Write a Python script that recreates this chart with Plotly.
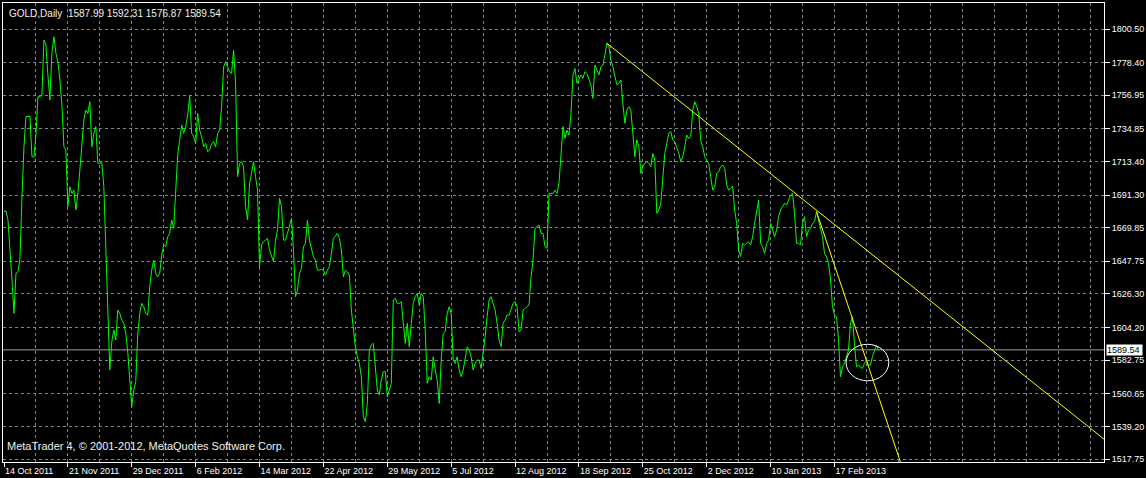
import plotly.graph_objects as go

# ---- data (daily closes, one per bar, bar 0 = 14 Oct 2011) ----
close = [
    1680.4, 1681.0, 1674.9, 1657.4, 1635.4, 1613.5, 1639.8, 1640.9, 1649.7, 1690.0,
    1723.1, 1742.8, 1743.3, 1743.3, 1716.5, 1716.5, 1730.8, 1756.0, 1756.0, 1757.1,
    1793.3, 1790.0, 1770.0, 1753.8, 1785.0, 1795.5, 1784.5, 1779.0, 1766.9, 1751.0,
    1723.1, 1720.9, 1683.7, 1696.8, 1692.4, 1694.6, 1681.5, 1692.4, 1707.8, 1723.1,
    1740.7, 1747.2, 1745.0, 1752.7, 1723.1, 1731.9, 1736.3, 1712.2, 1712.2, 1712.6,
    1696.8, 1657.4, 1615.7, 1576.3, 1595.0, 1602.6, 1596.0, 1615.7, 1613.5, 1609.1,
    1606.9, 1600.4, 1588.0, 1570.0, 1552.1, 1563.1, 1568.6, 1600.0, 1613.5, 1620.1,
    1617.9, 1613.5, 1612.4, 1631.1, 1642.0, 1648.6, 1639.8, 1637.6, 1639.8, 1651.9,
    1658.5, 1657.4, 1663.9, 1666.1, 1674.9, 1669.4, 1699.0, 1717.6, 1727.5, 1737.4,
    1731.9, 1736.3, 1743.9, 1756.4, 1731.9, 1729.7, 1725.3, 1745.0, 1734.1, 1729.7,
    1723.1, 1725.3, 1719.8, 1720.9, 1725.3, 1726.4, 1723.1, 1731.9, 1734.1, 1749.4,
    1775.7, 1779.0, 1775.7, 1772.4, 1771.3, 1786.7, 1764.8, 1703.4, 1712.2, 1713.3,
    1710.0, 1683.7, 1674.9, 1699.0, 1705.6, 1713.3, 1703.4, 1694.6, 1644.2, 1658.5,
    1660.6, 1661.7, 1662.8, 1655.2, 1650.8, 1647.5, 1661.7, 1668.3, 1689.2, 1683.7,
    1661.7, 1661.7, 1666.1, 1671.6, 1676.0, 1655.2, 1624.5, 1628.9, 1639.8, 1643.1,
    1657.4, 1659.6, 1674.9, 1661.7, 1655.2, 1650.8, 1648.6, 1642.0, 1642.0, 1642.5,
    1642.0, 1638.7, 1642.0, 1644.2, 1653.0, 1662.8, 1664.4, 1666.1, 1662.8, 1655.2,
    1637.6, 1642.0, 1640.9, 1638.7, 1615.7, 1602.6, 1591.6, 1585.0, 1580.6, 1571.9,
    1545.6, 1542.3, 1554.3, 1589.4, 1592.7, 1593.8, 1580.6, 1563.1, 1559.8, 1569.7,
    1575.2, 1575.2, 1558.7, 1563.1, 1567.5, 1622.3, 1623.4, 1620.1, 1620.1, 1621.2,
    1609.1, 1593.8, 1607.0, 1591.6, 1607.0, 1620.1, 1624.5, 1626.7, 1619.0, 1626.7,
    1624.5, 1602.6, 1567.5, 1571.9, 1569.7, 1585.0, 1576.3, 1569.7, 1554.3, 1582.8,
    1600.4, 1601.5, 1613.5, 1617.9, 1613.5, 1582.8, 1580.6, 1585.0, 1576.3, 1571.9,
    1576.3, 1585.0, 1591.6, 1589.4, 1585.0, 1576.3, 1580.6, 1582.8, 1582.8, 1577.3,
    1587.2, 1598.2, 1611.3, 1622.3, 1624.5, 1620.1, 1615.7, 1607.0, 1596.0, 1591.6,
    1607.0, 1609.1, 1612.4, 1612.4, 1615.7, 1620.1, 1621.2, 1617.9, 1601.5, 1602.6,
    1615.7, 1616.8, 1617.9, 1619.0, 1637.6, 1648.6, 1669.4, 1670.5, 1671.6, 1666.1,
    1666.1, 1657.4, 1656.3, 1692.4, 1692.4, 1692.4, 1694.6, 1692.4, 1699.0, 1720.0,
    1736.3, 1728.6, 1734.1, 1730.8, 1745.0, 1770.3, 1774.6, 1764.8, 1768.1, 1770.3,
    1768.1, 1772.4, 1771.3, 1766.9, 1763.7, 1754.9, 1776.8, 1773.5, 1770.3, 1775.7,
    1776.8, 1783.4, 1791.1, 1788.9, 1780.1, 1775.7, 1769.2, 1763.7, 1764.8, 1767.0,
    1751.6, 1738.5, 1747.2, 1749.4, 1747.2, 1729.7, 1716.5, 1727.5, 1723.1, 1705.6,
    1710.0, 1712.2, 1713.3, 1712.2, 1710.0, 1718.7, 1714.4, 1679.3, 1681.5, 1685.9,
    1705.6, 1718.7, 1725.3, 1731.9, 1733.0, 1727.5, 1726.4, 1723.1, 1718.7, 1713.3,
    1716.5, 1723.1, 1730.8, 1728.6, 1729.7, 1747.2, 1752.7, 1749.4, 1745.0, 1727.0,
    1723.1, 1716.5, 1714.4, 1712.0, 1703.4, 1694.6, 1696.8, 1705.6, 1706.7, 1710.0,
    1711.1, 1708.9, 1697.9, 1694.6, 1695.7, 1697.2, 1681.5, 1672.7, 1655.2, 1650.8,
    1659.6, 1658.5, 1659.6, 1660.6, 1658.5, 1663.9, 1672.7, 1681.5, 1688.0, 1659.6,
    1657.4, 1653.0, 1659.6, 1661.7, 1672.7, 1668.3, 1663.9, 1668.3, 1677.1, 1681.5,
    1683.7, 1685.9, 1684.8, 1688.0, 1691.3, 1692.4, 1679.3, 1659.6, 1659.6, 1658.5,
    1672.7, 1677.1, 1663.9, 1668.3, 1669.4, 1672.7, 1673.8, 1680.4, 1674.9, 1670.5,
    1663.9, 1653.0, 1650.8, 1646.4, 1636.0, 1618.0, 1612.4, 1611.3, 1597.0, 1571.9,
    1578.4, 1580.6, 1585.0, 1589.4, 1606.9, 1611.3, 1593.8, 1578.4, 1579.5, 1578.4,
    1577.3, 1580.6, 1582.8, 1579.5, 1579.5, 1585.0, 1589.4, 1592.5, 1589.54,
]
bars = list(range(len(close)))

date_labels = ["14 Oct 2011", "21 Nov 2011", "29 Dec 2011", "6 Feb 2012", "14 Mar 2012",
               "22 Apr 2012", "29 May 2012", "5 Jul 2012", "12 Aug 2012", "18 Sep 2012",
               "25 Oct 2012", "2 Dec 2012", "10 Jan 2013", "17 Feb 2013"]
label_step = 32   # bars between date labels
grid_step = 16    # bars between vertical grid lines
label_bars = [i * label_step for i in range(len(date_labels))]

price_ticks = [1800.50, 1778.40, 1756.95, 1734.85, 1713.40, 1691.30, 1669.85,
               1647.75, 1626.30, 1604.20, 1582.75, 1560.65, 1539.20, 1517.75]

ohlc = [1587.99, 1592.31, 1576.87, 1589.54]
last_price = ohlc[-1]
symbol = "GOLD,Daily"

# trendlines: two anchor points (bar, price), drawn as rays
trend1 = [(302, 1791.1), (395, 1693.9)]
trend2 = [(407, 1680.4), (426, 1606.0)]
# ellipse bounding box (bars, prices)
ellipse_x = [421.8, 443.2]
ellipse_y = [1569.2, 1593.2]

x_range = [-0.5, 551]
y_range = [1515.8, 1817.6]

GRID = "#778899"
FONT = "Liberation Sans, Arial, sans-serif"


def ray(anchors, x_end):
    (x0, y0), (x1, y1) = anchors
    slope = (y1 - y0) / (x1 - x0)
    return [x0, x_end], [y0, y0 + slope * (x_end - x0)]


fig = go.Figure()

fig.add_trace(go.Scatter(x=bars, y=close, mode="lines",
                         line=dict(color="#00FF00", width=1), hoverinfo="skip"))

for anchors in (trend1, trend2):
    tx, ty = ray(anchors, x_range[1] + 20)
    fig.add_trace(go.Scatter(x=tx, y=ty, mode="lines",
                             line=dict(color="#FFFF00", width=1), hoverinfo="skip"))

fig.add_shape(type="line", xref="paper", x0=0, x1=1, yref="y", y0=last_price, y1=last_price,
              line=dict(color="#A0A0A0", width=1), layer="below")
fig.add_shape(type="circle", xref="x", yref="y", x0=ellipse_x[0], x1=ellipse_x[1],
              y0=ellipse_y[0], y1=ellipse_y[1], line=dict(color="#FFFFFF", width=1))

fig.add_annotation(xref="paper", yref="paper", x=0, y=1, xanchor="left", yanchor="top",
                   xshift=4, yshift=-3, showarrow=False,
                   text=symbol + "  " + " ".join(f"{v:.2f}" for v in ohlc),
                   font=dict(family=FONT, size=10, color="#F0F0F0"))
fig.add_annotation(xref="paper", yref="paper", x=0, y=0, xanchor="left", yanchor="bottom",
                   xshift=2, yshift=8, showarrow=False,
                   text="MetaTrader 4, © 2001-2012, MetaQuotes Software Corp.",
                   font=dict(family=FONT, size=11, color="#F0F0F0"))
fig.add_annotation(xref="paper", yref="y", x=1, y=last_price, xanchor="left", yanchor="middle",
                   xshift=2, showarrow=False, text=f"{last_price:.2f} ", bgcolor="#FFFFFF",
                   borderpad=0, font=dict(family=FONT, size=9, color="#000000"))

fig.update_layout(
    width=1146, height=478,
    margin=dict(l=2, r=41, t=3, b=16),
    paper_bgcolor="#000000", plot_bgcolor="#000000",
    showlegend=False,
    xaxis=dict(
        range=x_range, tickvals=label_bars, ticktext=date_labels,
        ticks="outside", ticklen=4, tickcolor="#FFFFFF",
        ticklabelposition="outside right",
        tickfont=dict(family=FONT, size=9, color="#FFFFFF"),
        showline=True, linecolor="#FFFFFF", linewidth=1, mirror=True,
        showgrid=True, gridcolor=GRID, gridwidth=1, griddash="3px,3px",
        minor=dict(tick0=0, dtick=grid_step, showgrid=True, gridcolor=GRID,
                   gridwidth=1, griddash="3px,3px", ticks=""),
        zeroline=False, fixedrange=True,
    ),
    yaxis=dict(
        range=y_range, side="right", tickvals=price_ticks,
        ticktext=[f"{v:.2f}" for v in price_ticks],
        ticks="outside", ticklen=5, tickcolor="#FFFFFF",
        tickfont=dict(family=FONT, size=9, color="#FFFFFF"),
        showline=True, linecolor="#FFFFFF", linewidth=1, mirror=True,
        showgrid=True, gridcolor=GRID, gridwidth=1, griddash="3px,3px",
        zeroline=False, fixedrange=True,
    ),
)

fig.write_html("out.html", config={"displayModeBar": False},
               post_script="document.body.style.margin='0px';"
                           "document.body.style.overflow='hidden';")
